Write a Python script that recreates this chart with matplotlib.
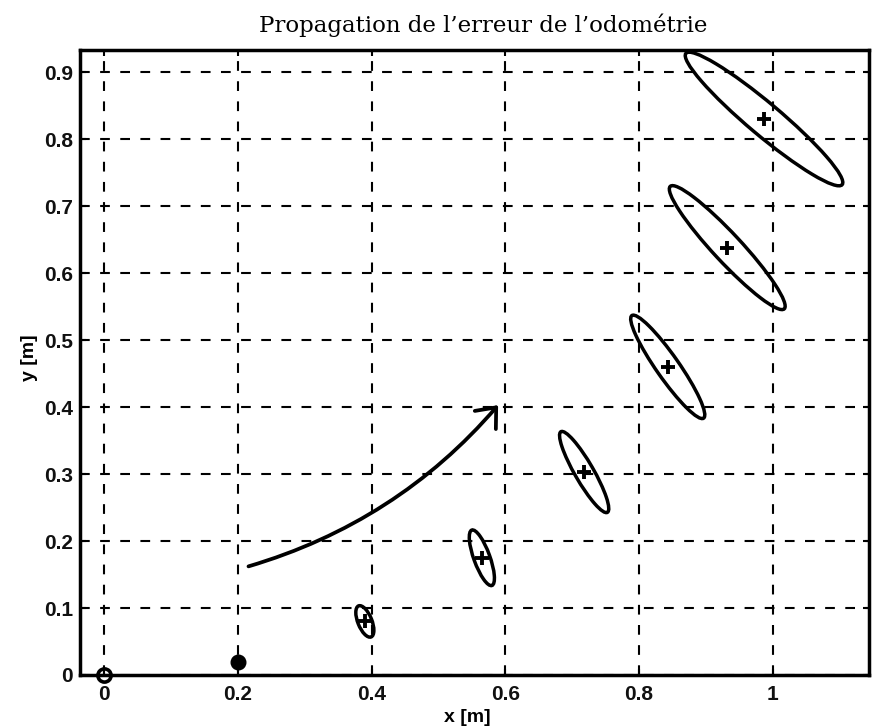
import matplotlib
matplotlib.use('Agg')
import matplotlib.pyplot as plt
from matplotlib.patches import Ellipse, FancyArrowPatch

# ---- data ----
title = "Propagation de l\u2019erreur de l\u2019odométrie"
x_label = "x [m]"
y_label = "y [m]"
xticks = [0, 0.2, 0.4, 0.6, 0.8, 1.0]
xticklabels = ['0', '0.2', '0.4', '0.6', '0.8', '1']
yticks = [0, 0.1, 0.2, 0.3, 0.4, 0.5, 0.6, 0.7, 0.8, 0.9]
yticklabels = ['0', '0.1', '0.2', '0.3', '0.4', '0.5', '0.6', '0.7', '0.8', '0.9']

start_x, start_y = 0.0, 0.0
second_x, second_y = 0.2, 0.019

ell_cx = [0.390, 0.565, 0.718, 0.843, 0.932, 0.987]
ell_cy = [0.080, 0.175, 0.303, 0.460, 0.638, 0.830]
ell_major = [0.050, 0.088, 0.139, 0.187, 0.250, 0.305]
ell_minor = [0.021, 0.024, 0.028, 0.034, 0.042, 0.048]
ell_angle = [112, 110, 120, 125, 133, 140]

arrow_start = (0.212, 0.161)
arrow_end = (0.592, 0.406)

xlim = (-0.036, 1.144)
ylim = (0.0, 0.933)

# ---- figure ----
plt.rcParams['lines.scale_dashes'] = False
fig = plt.figure(figsize=(8.73, 7.28), dpi=100)
ax = fig.add_axes([80/873, 1-675/728, 789/873, 625/728])
ax.set_xlim(*xlim)
ax.set_ylim(*ylim)

for x in xticks:
    ax.axvline(x, color='black', lw=1.5, ls=(0, (7, 7.5)), zorder=1)
for y in yticks:
    ax.axhline(y, color='black', lw=1.5, ls=(0, (7, 7.5)), zorder=1)

for cx, cy, w, h, a in zip(ell_cx, ell_cy, ell_major, ell_minor, ell_angle):
    ax.add_patch(Ellipse((cx, cy), w, h, angle=a, fill=False,
                         edgecolor='black', lw=2.5, zorder=3))
ax.plot(ell_cx, ell_cy, ls='none', marker='+', color='black',
        markersize=9.5, markeredgewidth=2.8, zorder=4)

ax.plot([start_x], [start_y], ls='none', marker='o', markersize=9.5,
        markerfacecolor='none', markeredgecolor='black', markeredgewidth=2.6,
        clip_on=False, zorder=5)
ax.plot([second_x], [second_y], ls='none', marker='o', markersize=10.5,
        color='black', clip_on=False, zorder=5)

arr = FancyArrowPatch(arrow_start, arrow_end, connectionstyle='arc3,rad=0.15',
                      arrowstyle='->,head_length=12,head_width=10',
                      color='black', lw=2.7, zorder=4)
ax.add_patch(arr)

ax.set_xticks(xticks)
ax.set_xticklabels(xticklabels)
ax.set_yticks(yticks)
ax.set_yticklabels(yticklabels)
for sp in ax.spines.values():
    sp.set_linewidth(2.5)
ax.tick_params(direction='in', length=4, width=1.5, top=True, right=True,
               labelsize=15)
ax.tick_params(axis='y', pad=5)
ax.tick_params(axis='x', pad=7)
for lab in ax.get_xticklabels() + ax.get_yticklabels():
    lab.set_fontfamily('Liberation Sans')
    lab.set_fontweight('bold')
    lab.set_color('#111111')

fig.text(467/873, 1-718/728, x_label, ha='center', va='center',
         fontsize=14, fontweight='bold', family='Liberation Sans')
fig.text(30/873, 1-358/728, y_label, ha='center', va='center', rotation=90,
         fontsize=14, fontweight='bold', family='Liberation Sans')
fig.text(483/873, 1-25/728, title, ha='center', va='center',
         fontsize=16.5, family='DejaVu Serif')

fig.savefig('out.png', dpi=100)
